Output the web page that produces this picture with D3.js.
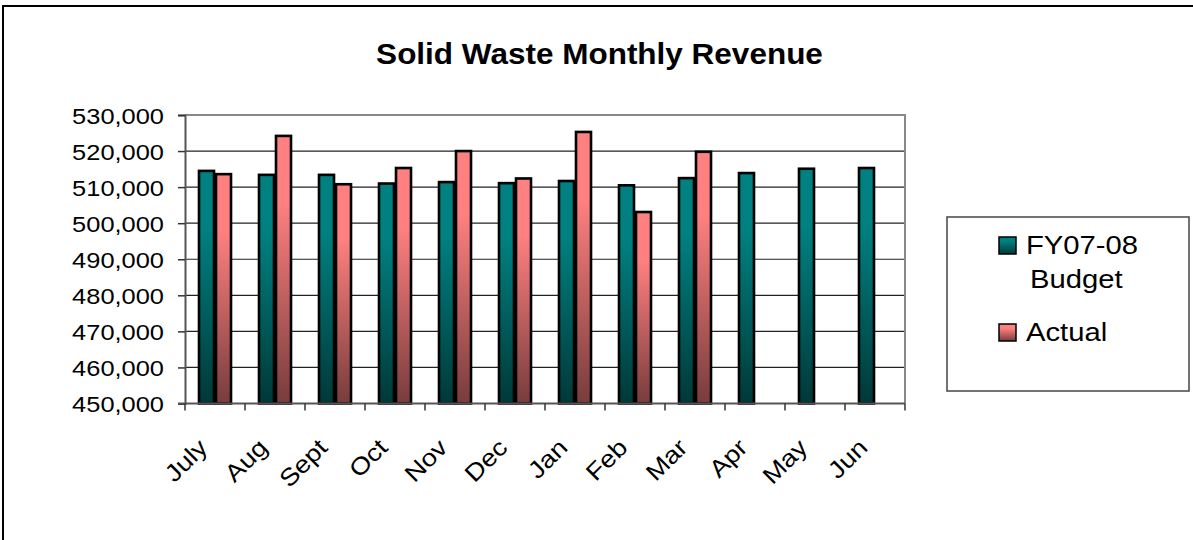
<!DOCTYPE html>
<html>
<head>
<meta charset="utf-8">
<script src="https://cdn.jsdelivr.net/npm/d3@7"></script>
<style>
  html, body { margin: 0; padding: 0; background: #fff; }
  svg { display: block; font-family: "Liberation Sans", Arial, sans-serif; }
</style>
</head>
<body>
<div id="plot"></div>
<script>
// chart values
const months = ['July', 'Aug', 'Sept', 'Oct', 'Nov', 'Dec', 'Jan', 'Feb', 'Mar', 'Apr', 'May', 'Jun'];
const budget = [514500, 513400, 513400, 511000, 511400, 511100, 511700, 510500, 512500, 513900, 515100, 515300];
const actual = [513600, 524200, 510800, 515300, 520000, 512400, 525300, 503100, 519800, null, null, null];
const yTicks = [450000, 460000, 470000, 480000, 490000, 500000, 510000, 520000, 530000];
const seriesNames = ['FY07-08 Budget', 'Actual'];

const width = 1193;
const height = 540;
const plot = {left: 185, right: 905, top: 115, bottom: 403.5};

const svg = d3.select('#plot').append('svg')
    .attr('width', width)
    .attr('height', height);

// gradients, light at top and dark at bottom
const defs = svg.append('defs');
function gradient(id, light, dark) {
    const g = defs.append('linearGradient')
        .attr('id', id)
        .attr('x1', 0).attr('y1', 0).attr('x2', 0).attr('y2', 1);
    g.append('stop').attr('offset', '0%').attr('stop-color', light);
    g.append('stop').attr('offset', '25%').attr('stop-color', light);
    g.append('stop').attr('offset', '100%').attr('stop-color', dark);
}
gradient('gBudget', '#008080', '#003838');
gradient('gActual', '#ff8080', '#783c3c');
const fills = ['url(#gBudget)', 'url(#gActual)'];

// outer frame
svg.append('rect')
    .attr('x', 3).attr('y', 6)
    .attr('width', width + 20).attr('height', height + 20)
    .attr('fill', 'none')
    .attr('stroke', '#000')
    .attr('stroke-width', 2);

// title
svg.append('text')
    .attr('transform', `translate(${width / 2 + 3},64) scale(1.05,1)`)
    .attr('text-anchor', 'middle')
    .attr('font-size', '30px')
    .attr('font-weight', 'bold')
    .text('Solid Waste Monthly Revenue');

const x = d3.scaleBand()
    .domain(months)
    .range([plot.left, plot.right])
    .paddingInner(0.4333)
    .paddingOuter(0.2167);

const xs = d3.scaleBand()
    .domain([0, 1])
    .range([0, x.bandwidth()]);

const y = d3.scaleLinear()
    .domain([yTicks[0], yTicks[yTicks.length - 1]])
    .range([plot.bottom, plot.top]);

// gridlines
svg.append('g')
    .selectAll('line')
    .data(yTicks.slice(1, -1))
    .join('line')
    .attr('x1', plot.left).attr('x2', plot.right)
    .attr('y1', d => y(d)).attr('y2', d => y(d))
    .attr('stroke', '#222')
    .attr('stroke-width', 1.2);

// plot area frame (top and right in grey)
svg.append('path')
    .attr('d', `M${plot.left},${y(yTicks[yTicks.length - 1])}H${plot.right}V${plot.bottom}`)
    .attr('fill', 'none')
    .attr('stroke', '#888')
    .attr('stroke-width', 2);

// bars
const groups = svg.append('g')
    .selectAll('g')
    .data(months.map((m, i) => ({month: m, values: [budget[i], actual[i]]})))
    .join('g')
    .attr('transform', d => `translate(${x(d.month)},0)`);

groups.selectAll('rect')
    .data(d => d.values.map((v, k) => ({k, v})).filter(e => e.v != null))
    .join('rect')
    .attr('x', d => xs(d.k) + 1)
    .attr('width', xs.bandwidth() - 2)
    .attr('y', d => y(d.v))
    .attr('height', d => y(yTicks[0]) - y(d.v))
    .attr('fill', d => fills[d.k])
    .attr('stroke', '#000')
    .attr('stroke-width', 2.6);

// y axis
const yAxis = svg.append('g')
    .attr('transform', `translate(${plot.left},0)`)
    .call(d3.axisLeft(y).tickValues(yTicks).tickFormat(d3.format(',')).tickSize(7).tickPadding(0));
yAxis.select('.domain').attr('stroke', '#555').attr('stroke-width', 2);
yAxis.selectAll('.tick line').attr('stroke', '#333').attr('stroke-width', 1.5);
yAxis.selectAll('.tick text')
    .attr('font-size', '22.5px')
    .attr('fill', '#000')
    .attr('x', null)
    .attr('dy', '0.36em')
    .attr('transform', 'translate(-21,0) scale(1.13,1)');

// x axis line and ticks at category boundaries
const xTickPos = d3.range(months.length + 1).map(i => plot.left + i * x.step());
svg.append('line')
    .attr('x1', plot.left - 7).attr('x2', plot.right)
    .attr('y1', plot.bottom).attr('y2', plot.bottom)
    .attr('stroke', '#555')
    .attr('stroke-width', 2);
svg.append('g')
    .selectAll('line')
    .data(xTickPos)
    .join('line')
    .attr('x1', d => d).attr('x2', d => d)
    .attr('y1', plot.bottom).attr('y2', plot.bottom + 7)
    .attr('stroke', '#333')
    .attr('stroke-width', 1.5);

// rotated month labels
svg.append('g')
    .selectAll('text')
    .data(months)
    .join('text')
    .attr('transform', d => `translate(${x(d) + x.bandwidth() / 2 - 6},449) rotate(-45) scale(1.14,1)`)
    .attr('text-anchor', 'end')
    .attr('font-size', '24px')
    .text(d => d);

// legend
const legend = svg.append('g');
legend.append('rect')
    .attr('x', 947).attr('y', 217)
    .attr('width', 242).attr('height', 174)
    .attr('fill', '#fff')
    .attr('stroke', '#444')
    .attr('stroke-width', 1.5);

const legendRows = [
    {lines: ['FY07-08', 'Budget'], top: 237},
    {lines: ['Actual'], top: 324}
];
legendRows.forEach((row, k) => {
    legend.append('rect')
        .attr('x', 999).attr('y', row.top)
        .attr('width', 17).attr('height', 17)
        .attr('fill', fills[k])
        .attr('stroke', '#000')
        .attr('stroke-width', 1.5);
    row.lines.forEach((line, j) => {
        legend.append('text')
            .attr('transform', `translate(${j === 0 ? 1026 : 1030},${row.top + 17 + j * 34}) scale(1.17,1)`)
            .attr('font-size', '25px')
            .text(line);
    });
});
</script>
</body>
</html>
